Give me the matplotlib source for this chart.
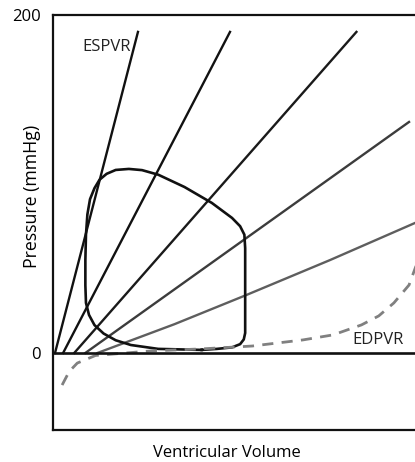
import matplotlib
matplotlib.use("Agg")
from matplotlib import pyplot as plt

plt.rcParams['font.family'] = ['Open Sans', 'DejaVu Sans']

# end-systolic pressure-volume lines (volume, pressure)
espvr_1_v = [1, 42]
espvr_1_p = [0, 190]
espvr_2_v = [5, 87.5]
espvr_2_p = [0, 190]
espvr_3_v = [10.5, 150]
espvr_3_p = [0, 190]
espvr_4_v = [16, 176]
espvr_4_p = [0, 136.7]
espvr_5_v = [22, 60, 95, 137, 181]
espvr_5_p = [0, 17, 34, 55, 78]

# pressure-volume loop
loop_v = [73.5, 52, 38.5, 31, 25, 20.5, 17.8, 16.3, 16, 16, 16.3, 17, 18.3,
          20.5, 23, 26.5, 31, 37.5, 44, 52, 65, 78.5, 88.5, 92.5, 94.6,
          95, 95, 95, 94.3, 92.5, 88.5, 81, 73.5]
loop_p = [1.8, 2.4, 4.7, 7.5, 11.5, 16.5, 22.5, 29.6, 40, 55, 70, 82, 91,
          97.5, 102.5, 106, 108.3, 108.9, 108.2, 105.5, 98.2, 88.8, 79.9,
          75, 70, 62, 35, 11.8, 8, 5.2, 3.3, 2.4, 1.8]

# end-diastolic pressure-volume relation
edpvr_v = [4.5, 8, 12, 21, 48.5, 73.5, 98.5, 123.5, 138.5, 152.5, 161,
           168.5, 176, 180, 181]
edpvr_p = [-19, -11, -6, -1.5, 1.2, 2.4, 4.1, 7.7, 10.7, 16.6, 21.9,
           29.6, 40.2, 53.3, 64]

fig = plt.figure(figsize=(4.15, 4.62), dpi=100)
ax = fig.add_axes([53 / 415, 32 / 462, 1 - 53 / 415 + 0.01, 415 / 462])

ax.plot(espvr_1_v, espvr_1_p, color='#111111', lw=1.7)
ax.plot(espvr_2_v, espvr_2_p, color='#111111', lw=1.7)
ax.plot(espvr_3_v, espvr_3_p, color='#1a1a1a', lw=1.7)
ax.plot(espvr_4_v, espvr_4_p, color='#3c3c3c', lw=1.7)
ax.plot(espvr_5_v, espvr_5_p, color='#5e5e5e', lw=1.7)

ax.plot(loop_v, loop_p, color='#111111', lw=1.9, solid_joinstyle='round')

ax.plot(edpvr_v, edpvr_p, color='#808080', lw=2.0, linestyle=(0, (4, 3)))

ax.axhline(0, color='#111111', lw=1.9)

ax.text(14.5, 181, 'ESPVR', fontsize=12, color='#222222', va='center')
ax.text(148, 7.5, 'EDPVR', fontsize=12, color='#222222', va='center')

ax.set_xlim(0, 181)
ax.set_ylim(-45.6, 200)
ax.set_xticks([])
ax.set_yticks([0, 200])
ax.set_yticklabels(['0', '200'], fontsize=12)
ax.tick_params(axis='y', length=0, pad=9)
ax.spines['right'].set_visible(False)
for side in ['left', 'top', 'bottom']:
    ax.spines[side].set_linewidth(1.6)
    ax.spines[side].set_color('#111111')

fig.text(32 / 415, 1 - 196 / 462, 'Pressure (mmHg)', fontsize=12.8,
         rotation=90, ha='center', va='center')
fig.text(227 / 415, 1 - 453 / 462, 'Ventricular Volume', fontsize=12,
         ha='center', va='center')

plt.savefig('out.png', dpi=100)
